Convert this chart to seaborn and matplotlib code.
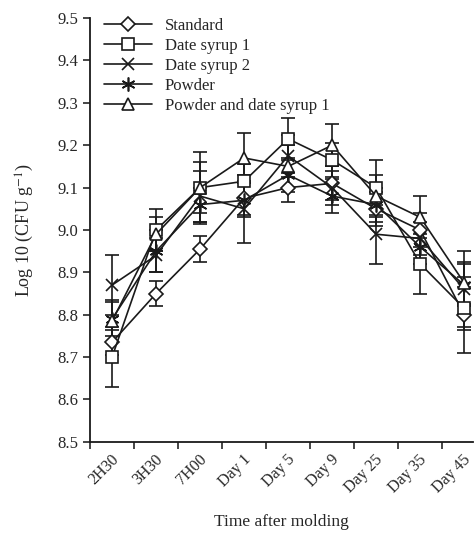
import numpy as np
import pandas as pd
import matplotlib
matplotlib.use("Agg")
import matplotlib.pyplot as plt
import matplotlib.transforms as mtransforms
import seaborn as sns

times = ["2H30", "3H30", "7H00", "Day 1", "Day 5", "Day 9", "Day 25", "Day 35", "Day 45"]
series_names = ["Standard", "Date syrup 1", "Date syrup 2", "Powder", "Powder and date syrup 1"]

standard = [8.735, 8.85, 8.955, 9.075, 9.10, 9.11, 9.05, 9.00, 8.80]
date_syrup_1 = [8.70, 9.00, 9.10, 9.115, 9.215, 9.165, 9.10, 8.92, 8.815]
date_syrup_2 = [8.87, 8.94, 9.08, 9.05, 9.175, 9.10, 8.99, 8.98, 8.86]
powder = [8.79, 8.95, 9.06, 9.07, 9.13, 9.08, 9.06, 8.96, 8.87]
powder_ds1 = [8.785, 8.99, 9.10, 9.17, 9.15, 9.20, 9.08, 9.03, 8.875]

err_standard = [0.03, 0.03, 0.03, 0.04, 0.035, 0.04, 0.04, 0.04, 0.09]
err_ds1 = [0.07, 0.05, 0.085, 0.04, 0.05, 0.04, 0.065, 0.07, 0.05]
err_ds2 = [0.07, 0.04, 0.06, 0.08, 0.05, 0.04, 0.07, 0.04, 0.09]
err_powder = [0.04, 0.05, 0.04, 0.04, 0.04, 0.04, 0.04, 0.04, 0.05]
err_powder_ds1 = [0.05, 0.04, 0.06, 0.06, 0.05, 0.05, 0.05, 0.05, 0.05]

values = [standard, date_syrup_1, date_syrup_2, powder, powder_ds1]
errors = [err_standard, err_ds1, err_ds2, err_powder, err_powder_ds1]

sns.set_style("ticks")
plt.rcParams["font.family"] = ["Liberation Serif", "DejaVu Serif"]
plt.rcParams["mathtext.fontset"] = "stix"

pos = np.arange(len(times))
rows = []
for name, vals, errs in zip(series_names, values, errors):
    for p, v, e in zip(pos, vals, errs):
        rows.append({"pos": p, "value": v, "err": e, "series": name})
df = pd.DataFrame(rows)

fig = plt.figure(figsize=(4.74, 5.33), dpi=100)
ax = fig.add_axes([0.19, 0.171, 0.808, 0.795])

for name in series_names:
    sub = df[df.series == name]
    ax.errorbar(sub["pos"], sub["value"], yerr=sub["err"], fmt="none",
                ecolor="#1a1a1a", elinewidth=1.2, capsize=5, capthick=1.2, zorder=1)

markers = {
    "Standard": "D",
    "Date syrup 1": "s",
    "Date syrup 2": "x",
    "Powder": (6, 2, 0),
    "Powder and date syrup 1": "^",
}
sizes = {"Standard": 7, "Date syrup 1": 9, "Date syrup 2": 9, "Powder": 10,
         "Powder and date syrup 1": 8.5}

for name in series_names:
    sub = df[df.series == name]
    sns.lineplot(data=sub, x="pos", y="value", ax=ax, color="#1a1a1a",
                 marker=markers[name], markersize=sizes[name],
                 markerfacecolor="white", markeredgecolor="#1a1a1a",
                 markeredgewidth=1.2, linewidth=1.2, label=name, zorder=3,
                 errorbar=None)

ax.set_xlim(-0.5, 8.2)
ax.set_ylim(8.5, 9.5)
yt = np.arange(8.5, 9.51, 0.1)
ax.set_yticks(yt)
ax.set_yticklabels([f"{t:.1f}" for t in yt], fontsize=12)

ax.set_xticks(pos)
ax.set_xticklabels(times, rotation=45, ha="right", rotation_mode="anchor", fontsize=11.5)
ax.tick_params(axis="x", which="major", length=0, pad=7)
shift = mtransforms.ScaledTranslation(-1 / 72, 0, fig.dpi_scale_trans)
for lab in ax.get_xticklabels():
    lab.set_transform(lab.get_transform() + shift)
ax.set_xticks(np.arange(-0.5, 8.0, 1.0), minor=True)
ax.tick_params(axis="x", which="minor", length=5, width=1.2, direction="out")
ax.tick_params(axis="y", length=5, width=1.2, direction="out")

for s in ["top", "right"]:
    ax.spines[s].set_visible(False)
for s in ["left", "bottom"]:
    ax.spines[s].set_linewidth(1.3)
    ax.spines[s].set_color("#1a1a1a")

ax.set_xlabel("Time after molding", fontsize=12.5, labelpad=13)
ax.set_ylabel("Log 10 (CFU g$^{-1}$)", fontsize=13, labelpad=15)

ax.legend(loc="upper left", bbox_to_anchor=(0.006, 1.028), frameon=False,
          fontsize=12, handlelength=2.9, labelspacing=0.24, borderpad=0.2,
          handletextpad=0.75)

fig.savefig("out.png", dpi=100)
